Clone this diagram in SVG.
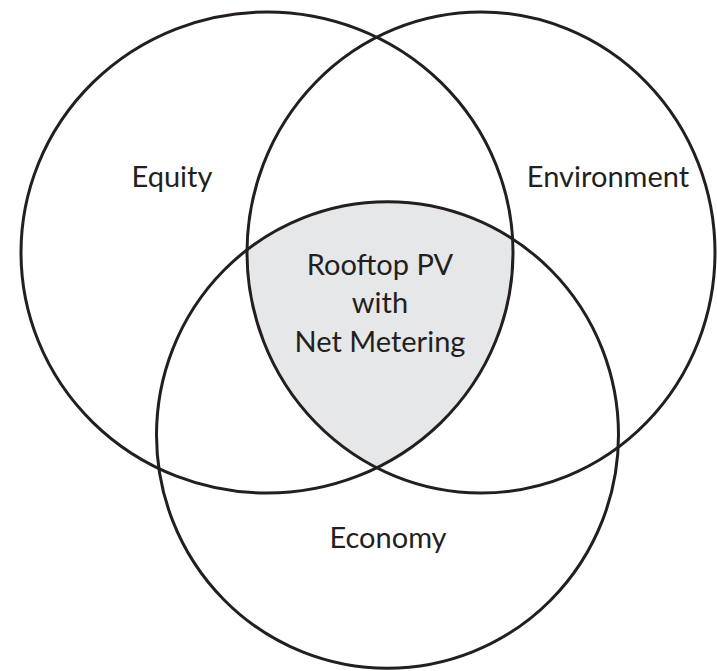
<svg xmlns="http://www.w3.org/2000/svg" width="717" height="671" viewBox="0 0 717 671">
  <style>
    .ring { fill: none; stroke: #231f20; stroke-width: 3; }
    .label { font-family: Lato, "Liberation Sans", sans-serif; font-size: 29px; fill: #231f20; text-anchor: middle; }
  </style>
  <defs>
    <clipPath id="clip-equity">
      <ellipse cx="267" cy="252.5" rx="246" ry="240.5"/>
    </clipPath>
    <clipPath id="clip-environment">
      <ellipse cx="481" cy="252.5" rx="234" ry="240.5"/>
    </clipPath>
  </defs>
  <rect width="717" height="671" fill="#ffffff"/>

  <!-- shared region of all three sets -->
  <g id="core">
    <g clip-path="url(#clip-equity)">
      <g clip-path="url(#clip-environment)">
        <ellipse cx="387.5" cy="435" rx="231" ry="233.3" fill="#e6e7e8"/>
      </g>
    </g>
    <text class="label" x="380" y="275">Rooftop PV</text>
    <text class="label" x="380" y="313">with</text>
    <text class="label" x="380" y="352">Net Metering</text>
  </g>

  <g id="equity">
    <ellipse class="ring" cx="267" cy="252.5" rx="246" ry="240.5"/>
    <text class="label" x="172" y="187">Equity</text>
  </g>

  <g id="environment">
    <ellipse class="ring" cx="481" cy="252.5" rx="234" ry="240.5"/>
    <text class="label" x="608" y="187">Environment</text>
  </g>

  <g id="economy">
    <ellipse class="ring" cx="387.5" cy="435" rx="231" ry="233.3"/>
    <text class="label" x="388" y="548">Economy</text>
  </g>
</svg>
